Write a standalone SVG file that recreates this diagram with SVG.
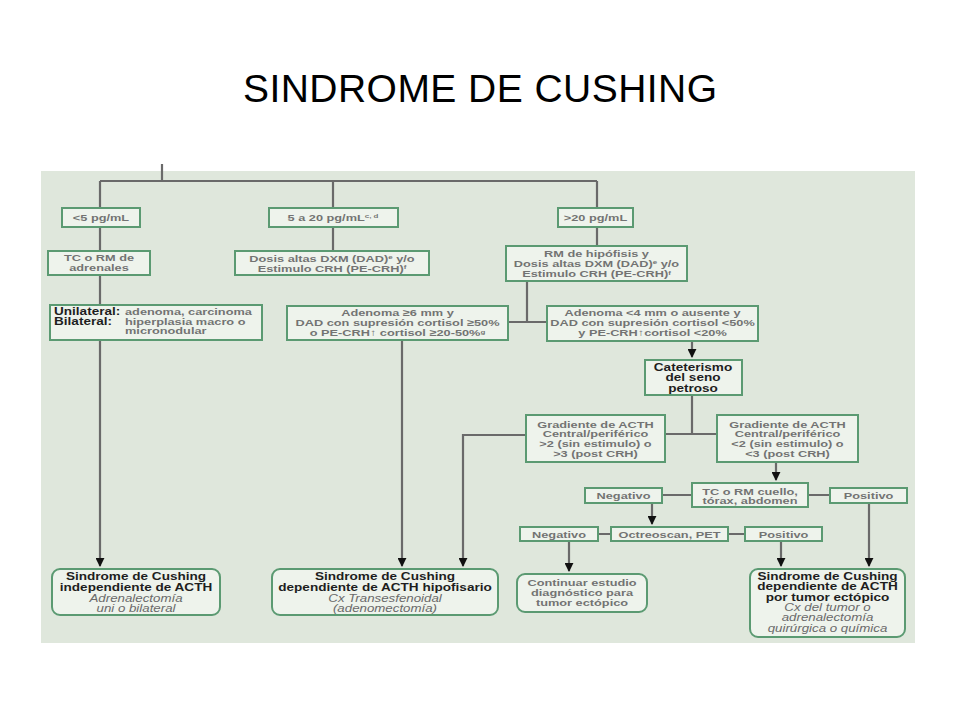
<svg xmlns="http://www.w3.org/2000/svg" width="960" height="720" viewBox="0 0 960 720">
<style>
.ln{stroke:#6a6a6a;stroke-width:2.2;fill:none}
.ar{marker-end:url(#ah)}
.bx{fill:#eef3ec;stroke:#5b9a72;stroke-width:2}
.t{font-family:"Liberation Sans",Arial,sans-serif;font-weight:bold;font-size:9.6px;fill:#737373;text-anchor:middle}
.h{font-family:"Liberation Sans",Arial,sans-serif;font-weight:bold;font-size:10.2px;fill:#1e1e1e;text-anchor:middle}
.i{font-family:"Liberation Sans",Arial,sans-serif;font-style:italic;font-size:10px;fill:#6a6a6a;text-anchor:middle}
.l{text-anchor:start}
.sup{font-size:6px;baseline-shift:super}
</style>
<defs>
<marker id="ah" viewBox="0 0 10 10" refX="9" refY="5" markerWidth="9" markerHeight="9" markerUnits="userSpaceOnUse" orient="auto"><path d="M0,0 L10,5 L0,10 z" fill="#111"/></marker>
</defs>
<rect width="960" height="720" fill="#ffffff"/>
<text x="480" y="102" font-family="Liberation Sans, Arial, sans-serif" font-size="39" textLength="474" lengthAdjust="spacing" text-anchor="middle" fill="#000">SINDROME DE CUSHING</text>
<rect x="41" y="171" width="874" height="472" fill="#dfe7dc"/>

<g id="connectors">
<path class="ln" d="M162,164 V181 M100,181 H597"/>
<path class="ln" d="M100,181 V208 M100,227 V251 M100,275 V305"/>
<path class="ln ar" d="M100,340 V566"/>
<path class="ln" d="M333,181 V208 M333,227 V251"/>
<path class="ln" d="M597,181 V208 M597,227 V246"/>
<path class="ln" d="M527,281 V322 M508,322 H547"/>
<path class="ln ar" d="M402,340 V566"/>
<path class="ln ar" d="M692,341 V357"/>
<path class="ln" d="M692,395 V434 M665,434 H717"/>
<path class="ln ar" d="M526,435 H463 V566"/>
<path class="ln ar" d="M776,462 V480"/>
<path class="ln" d="M662,495 H692 M808,495 H830"/>
<path class="ln ar" d="M652,503 V524"/>
<path class="ln" d="M598,534 H611 M728,534 H745"/>
<path class="ln ar" d="M569,541 V571"/>
<path class="ln ar" d="M781,541 V566"/>
<path class="ln ar" d="M869,503 V566"/>
</g>

<g id="n-lt5">
<rect class="bx" x="62" y="208" width="78" height="19"/>
<text class="t" transform="translate(101 221) scale(1.33 1)">&lt;5 pg/mL</text>
</g>
<g id="n-tc-adrenales">
<rect class="bx" x="48" y="251" width="102" height="24"/>
<text class="t" transform="translate(99 261) scale(1.33 1)"><tspan x="0" y="0">TC o RM de</tspan><tspan x="0" y="10">adrenales</tspan></text>
</g>
<g id="n-5a20">
<rect class="bx" x="269" y="208" width="129" height="19"/>
<text class="t" transform="translate(333 221) scale(1.33 1)">5 a 20 pg/mL<tspan class="sup">c, d</tspan></text>
</g>
<g id="n-dosis">
<rect class="bx" x="235" y="251" width="194" height="24"/>
<text class="t" transform="translate(332 261.5) scale(1.33 1)"><tspan x="0" y="0">Dosis altas DXM (DAD)<tspan class="sup">e</tspan> y/o</tspan><tspan x="0" y="10.5">Estimulo CRH (PE-CRH)<tspan class="sup">f</tspan></tspan></text>
</g>
<g id="n-gt20">
<rect class="bx" x="558" y="208" width="75" height="19"/>
<text class="t" transform="translate(595.5 221) scale(1.33 1)">&gt;20 pg/mL</text>
</g>
<g id="n-rm-hipofisis">
<rect class="bx" x="506" y="246" width="181" height="35"/>
<text class="t" transform="translate(596.5 256.5) scale(1.33 1)"><tspan x="0" y="0">RM de hipófisis y</tspan><tspan x="0" y="10.5">Dosis altas DXM (DAD)<tspan class="sup">e</tspan> y/o</tspan><tspan x="0" y="21">Estimulo CRH (PE-CRH)<tspan class="sup">f</tspan></tspan></text>
</g>
<g id="n-uni-bilateral">
<rect class="bx" x="50" y="305" width="212" height="35"/>
<text class="h l" transform="translate(54 315) scale(1.33 1)">Unilateral:</text>
<text class="h l" transform="translate(54 325) scale(1.33 1)">Bilateral:</text>
<text class="t l" transform="translate(125 315) scale(1.33 1)"><tspan x="0" y="0">adenoma, carcinoma</tspan><tspan x="0" y="10">hiperplasia macro o</tspan><tspan x="0" y="19.5">micronodular</tspan></text>
</g>
<g id="n-adenoma-ge6">
<rect class="bx" x="287" y="306" width="221" height="34"/>
<text class="t" transform="translate(397.5 316) scale(1.33 1)"><tspan x="0" y="0">Adenoma ≥6 mm y</tspan><tspan x="0" y="10.5">DAD con supresión cortisol ≥50%</tspan><tspan x="0" y="20.5">o PE-CRH↑ cortisol ≥20-50%<tspan class="sup">g</tspan></tspan></text>
</g>
<g id="n-adenoma-lt4">
<rect class="bx" x="547" y="306" width="211" height="35"/>
<text class="t" transform="translate(652.5 316) scale(1.33 1)"><tspan x="0" y="0">Adenoma &lt;4 mm o ausente y</tspan><tspan x="0" y="10.5">DAD con supresión cortisol &lt;50%</tspan><tspan x="0" y="20.5">y PE-CRH↑cortisol &lt;20%</tspan></text>
</g>
<g id="n-cateterismo">
<rect class="bx" x="645" y="360" width="97" height="35"/>
<text class="h" transform="translate(693 371) scale(1.33 1)"><tspan x="0" y="0">Cateterismo</tspan><tspan x="0" y="10.5">del seno</tspan><tspan x="0" y="21">petroso</tspan></text>
</g>
<g id="n-gradiente-alto">
<rect class="bx" x="526" y="415" width="139" height="47"/>
<text class="t" transform="translate(595.5 427.5) scale(1.33 1)"><tspan x="0" y="0">Gradiente de ACTH</tspan><tspan x="0" y="10">Central/periférico</tspan><tspan x="0" y="20">&gt;2 (sin estimulo) o</tspan><tspan x="0" y="30">&gt;3 (post CRH)</tspan></text>
</g>
<g id="n-gradiente-bajo">
<rect class="bx" x="717" y="415" width="141" height="47"/>
<text class="t" transform="translate(787.5 427.5) scale(1.33 1)"><tspan x="0" y="0">Gradiente de ACTH</tspan><tspan x="0" y="10">Central/periférico</tspan><tspan x="0" y="20">&lt;2 (sin estimulo) o</tspan><tspan x="0" y="30">&lt;3 (post CRH)</tspan></text>
</g>
<g id="n-tc-cuello">
<rect class="bx" x="692" y="483" width="116" height="24"/>
<text class="t" transform="translate(750 494.5) scale(1.33 1)"><tspan x="0" y="0">TC o RM cuello,</tspan><tspan x="0" y="10">tórax, abdomen</tspan></text>
</g>
<g id="n-negativo-1">
<rect class="bx" x="585" y="488" width="77" height="15"/>
<text class="t" transform="translate(623.5 498.5) scale(1.33 1)">Negativo</text>
</g>
<g id="n-positivo-1">
<rect class="bx" x="830" y="488" width="77" height="15"/>
<text class="t" transform="translate(868.5 498.5) scale(1.33 1)">Positivo</text>
</g>
<g id="n-octreoscan">
<rect class="bx" x="611" y="527" width="117" height="14"/>
<text class="t" transform="translate(669.5 537.5) scale(1.33 1)">Octreoscan, PET</text>
</g>
<g id="n-negativo-2">
<rect class="bx" x="520" y="527" width="78" height="14"/>
<text class="t" transform="translate(559 537.5) scale(1.33 1)">Negativo</text>
</g>
<g id="n-positivo-2">
<rect class="bx" x="745" y="527" width="77" height="14"/>
<text class="t" transform="translate(783.5 537.5) scale(1.33 1)">Positivo</text>
</g>
<g id="n-independiente">
<rect class="bx" x="52" y="569" width="168" height="46" rx="8"/>
<text class="h" transform="translate(136 580) scale(1.33 1)"><tspan x="0" y="0">Sindrome de Cushing</tspan><tspan x="0" y="11">independiente de ACTH</tspan></text>
<text class="i" transform="translate(136 602) scale(1.33 1)"><tspan x="0" y="0">Adrenalectomía</tspan><tspan x="0" y="10.5">uni o bilateral</tspan></text>
</g>
<g id="n-hipofisario">
<rect class="bx" x="272" y="569" width="226" height="46" rx="8"/>
<text class="h" transform="translate(385 580) scale(1.33 1)"><tspan x="0" y="0">Sindrome de Cushing</tspan><tspan x="0" y="11">dependiente de ACTH hipofisario</tspan></text>
<text class="i" transform="translate(385 602) scale(1.33 1)"><tspan x="0" y="0">Cx Transesfenoidal</tspan><tspan x="0" y="10.5">(adenomectomía)</tspan></text>
</g>
<g id="n-continuar">
<rect class="bx" x="517" y="574" width="130" height="38" rx="8"/>
<text class="t" transform="translate(582 585.5) scale(1.33 1)"><tspan x="0" y="0">Continuar estudio</tspan><tspan x="0" y="10.5">diagnóstico para</tspan><tspan x="0" y="21">tumor ectópico</tspan></text>
</g>
<g id="n-ectopico">
<rect class="bx" x="750" y="569" width="155" height="68" rx="8"/>
<text class="h" transform="translate(827.5 580) scale(1.33 1)"><tspan x="0" y="0">Sindrome de Cushing</tspan><tspan x="0" y="10.5">dependiente de ACTH</tspan><tspan x="0" y="21">por tumor ectópico</tspan></text>
<text class="i" transform="translate(827.5 611) scale(1.33 1)"><tspan x="0" y="0">Cx del tumor o</tspan><tspan x="0" y="10.5">adrenalectomía</tspan><tspan x="0" y="21">quirúrgica o química</tspan></text>
</g>
</svg>
